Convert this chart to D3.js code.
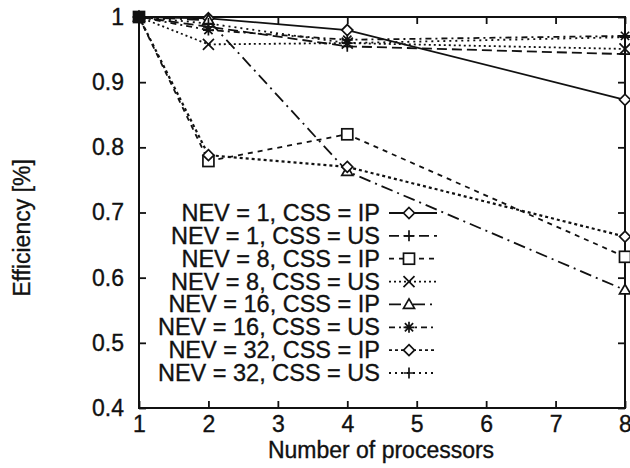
<!DOCTYPE html>
<html><head><meta charset="utf-8">
<script src="https://cdn.jsdelivr.net/npm/d3@7"></script>
<style>
body{margin:0;background:#fff;}
svg text{font-family:"Liberation Sans",Arial,Helvetica,sans-serif;fill:#111;stroke:#111;stroke-width:0.35px;}
</style></head>
<body><svg id="c" width="630" height="468"></svg>
<script>
const processors = [1, 2, 4, 8];
const seriesNames = [
  "NEV = 1, CSS = IP", "NEV = 1, CSS = US",
  "NEV = 8, CSS = IP", "NEV = 8, CSS = US",
  "NEV = 16, CSS = IP", "NEV = 16, CSS = US",
  "NEV = 32, CSS = IP", "NEV = 32, CSS = US"
];
const nev1IP  = [1, 0.998, 0.98, 0.873];
const nev1US  = [1, 0.985, 0.955, 0.943];
const nev8IP  = [1, 0.779, 0.82, 0.632];
const nev8US  = [1, 0.958, 0.96, 0.951];
const nev16IP = [1, 0.995, 0.763, 0.581];
const nev16US = [1, 0.98, 0.965, 0.971];
const nev32IP = [1, 0.788, 0.77, 0.663];
const nev32US = [1, 0.99, 0.96, 0.969];
const xTicks = [1, 2, 3, 4, 5, 6, 7, 8];
const yTicks = [0.4, 0.5, 0.6, 0.7, 0.8, 0.9, 1];

const seriesValues = [nev1IP, nev1US, nev8IP, nev8US, nev16IP, nev16US, nev32IP, nev32US];
const dashes = [null, "10,5", "5,5", "2,3", "12,5,2,5", "6,4,2,4", "3,3", "2,4"];
const markers = ["diamond", "plus", "square", "cross", "triangle", "star", "diamond", "plus"];

const svg = d3.select("#c");
const L = 139, R = 625, T = 17, B = 408;
const x = d3.scaleLinear().domain([1, 8]).range([L, R]);
const y = d3.scaleLinear().domain([0.4, 1]).range([B, T]);

const fs = "23px";
const gx = svg.append("g").attr("transform", `translate(0,${B})`)
  .call(d3.axisBottom(x).tickValues(xTicks).tickFormat(d3.format("d")).tickSize(-7).tickSizeOuter(0).tickPadding(8));
const gy = svg.append("g").attr("transform", `translate(${L},0)`)
  .call(d3.axisLeft(y).tickValues(yTicks).tickFormat(d => d === 1 ? "1" : d3.format(".1f")(d)).tickSize(-7).tickSizeOuter(0).tickPadding(15));
const gt = svg.append("g").attr("transform", `translate(0,${T})`)
  .call(d3.axisTop(x).tickValues(xTicks).tickFormat("").tickSize(-7).tickSizeOuter(0));
const gr = svg.append("g").attr("transform", `translate(${R},0)`)
  .call(d3.axisRight(y).tickValues(yTicks).tickFormat("").tickSize(-7).tickSizeOuter(0));
[gx, gy, gt, gr].forEach(g => {
  g.selectAll("path.domain").remove();
  g.selectAll("line").attr("stroke", "#111").attr("stroke-width", 1.8);
  g.selectAll("text").style("font-size", fs).attr("fill", "#111");
});
gx.selectAll("text").attr("dy", "0.71em");
svg.append("rect").attr("x", L).attr("y", T).attr("width", R - L).attr("height", B - T)
  .attr("fill", "none").attr("stroke", "#111").attr("stroke-width", 2);

svg.append("text").attr("x", 381).attr("y", 458).attr("text-anchor", "middle")
  .style("font-size", "23px").text("Number of processors");
svg.append("text").attr("transform", "translate(30,228) rotate(-90)").attr("text-anchor", "middle")
  .style("font-size", "23px").text("Efficiency [%]");

function drawMarker(g, type, cx, cy) {
  const s = 5.5;
  let el;
  if (type === "diamond") el = g.append("path").attr("d", `M${cx},${cy - s}L${cx + s},${cy}L${cx},${cy + s}L${cx - s},${cy}Z`).attr("fill", "#fff");
  else if (type === "square") el = g.append("rect").attr("x", cx - s).attr("y", cy - s).attr("width", 2 * s).attr("height", 2 * s).attr("fill", "#fff");
  else if (type === "triangle") el = g.append("path").attr("d", `M${cx},${cy - s}L${cx + s},${cy + s * 0.7}L${cx - s},${cy + s * 0.7}Z`).attr("fill", "#fff");
  else if (type === "plus") el = g.append("path").attr("d", `M${cx - s},${cy}H${cx + s}M${cx},${cy - s}V${cy + s}`).attr("fill", "none");
  else if (type === "cross") el = g.append("path").attr("d", `M${cx - s},${cy - s}L${cx + s},${cy + s}M${cx - s},${cy + s}L${cx + s},${cy - s}`).attr("fill", "none");
  else if (type === "star") el = g.append("path").attr("d", `M${cx - s},${cy}H${cx + s}M${cx},${cy - s}V${cy + s}M${cx - s*0.75},${cy - s*0.75}L${cx + s*0.75},${cy + s*0.75}M${cx - s*0.75},${cy + s*0.75}L${cx + s*0.75},${cy - s*0.75}`).attr("fill", "none");
  el.attr("stroke", "#111").attr("stroke-width", 1.7);
}

const line = d3.line().x(d => x(d[0])).y(d => y(d[1]));
const plot = svg.append("g");
seriesValues.forEach((vals, i) => {
  const pts = processors.map((p, j) => [p, vals[j]]);
  plot.append("path").attr("d", line(pts)).attr("fill", "none").attr("stroke", "#111")
    .attr("stroke-width", i === 6 ? 2.2 : 1.8).attr("stroke-dasharray", dashes[i]);
});
seriesValues.forEach((vals, i) => {
  processors.forEach((p, j) => drawMarker(plot, markers[i], x(p), y(vals[j])));
});
plot.append("rect").attr("x", x(1) - 5).attr("y", y(1) - 5).attr("width", 10).attr("height", 10).attr("fill", "#111");

const leg = svg.append("g");
seriesNames.forEach((name, i) => {
  const base = 221 + i * 22.86;
  const cy = base - 8;
  leg.append("text").attr("x", 380).attr("y", base).attr("text-anchor", "end")
    .style("font-size", "23.5px").text(name);
  leg.append("line").attr("x1", 389).attr("x2", 437).attr("y1", cy).attr("y2", cy)
    .attr("stroke", "#111").attr("stroke-width", 1.8).attr("stroke-dasharray", dashes[i]);
  drawMarker(leg, markers[i], 409, cy);
});
</script></body></html>
